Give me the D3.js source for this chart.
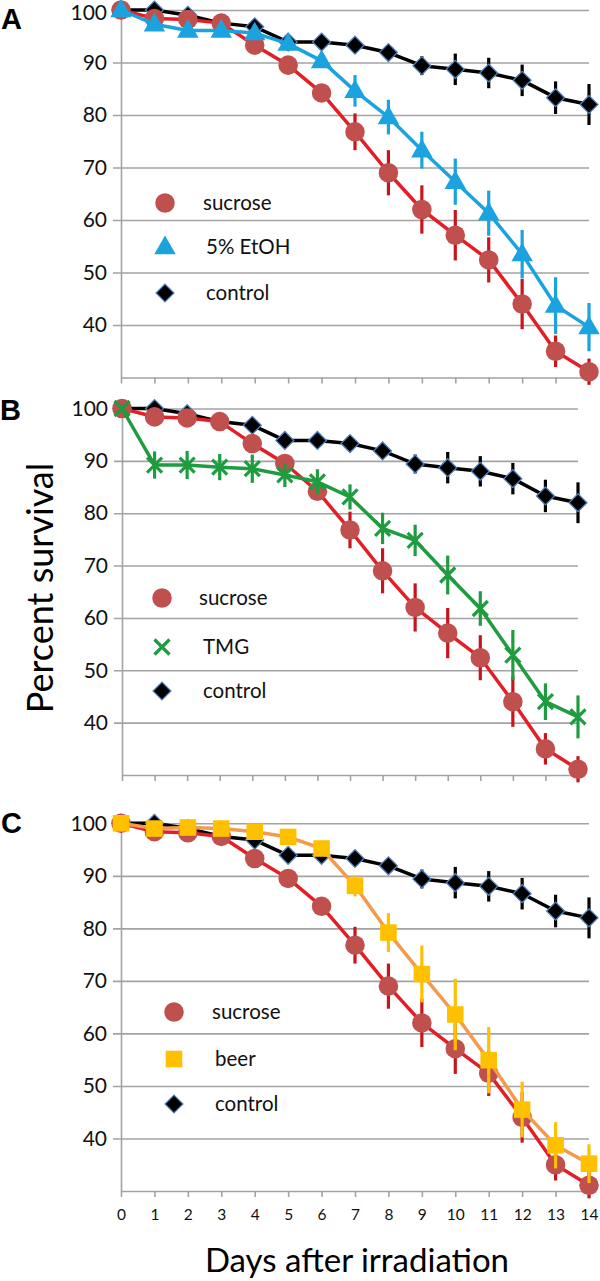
<!DOCTYPE html>
<html><head><meta charset="utf-8">
<script src="https://cdn.jsdelivr.net/npm/d3@7"></script>
<style>body{margin:0;background:#fff} svg{display:block}</style>
</head><body>
<svg id="chart" width="600" height="1281"></svg>
<script>
// ---------- data ----------
const days = [0,1,2,3,4,5,6,7,8,9,10,11,12,13,14];
const yTicks = [40,50,60,70,80,90,100];
const xTickLabels = ["0","1","2","3","4","5","6","7","8","9","10","11","12","13","14"];

const control    = [100,100,99.0,97.5,96.8,93.9,93.9,93.3,91.9,89.4,88.7,88.0,86.6,83.3,82.0];
const controlErr = [0,0,0,0,0.5,0.8,0.8,0.8,1.2,1.8,3.0,2.9,3.0,3.1,3.9];

const sucrose    = [100,98.4,98.2,97.5,93.3,89.5,84.2,76.8,69.0,62.0,57.1,52.4,44.0,35.0,31.1];
const sucroseErr = [0,0.3,0.3,0.5,0.8,1.2,1.2,3.5,4.3,4.6,4.8,4.3,4.8,3.0,2.5];

const etoh       = [100,97.3,96.1,96.1,95.6,93.6,90.3,84.6,79.6,73.3,67.3,61.3,53.5,43.7,39.6];
const etohErr    = [0,0.5,0.5,0.5,0.5,0.8,1.0,3.0,3.3,3.5,4.4,4.3,4.6,5.4,4.6];

const tmg        = [100,89.2,89.2,88.8,88.5,87.3,86.0,83.1,77.1,74.8,68.2,61.8,52.9,44.0,41.1];
const tmgErr     = [0,2.6,2.7,2.5,2.7,2.3,2.4,2.4,3.0,3.0,3.7,3.3,4.8,3.5,4.1];

const beer       = [100,99.0,99.2,99.0,98.4,97.4,95.2,88.1,79.2,71.3,63.6,54.9,45.5,38.7,35.2];
const beerErr    = [0,0.5,0.5,0.5,0.8,0.8,1.0,2.0,3.7,5.4,6.8,6.3,5.3,4.4,3.7];

const seriesNames = ["sucrose","5% EtOH","control","TMG","beer"];

// ---------- styles ----------
const FONT = "Lato, 'Open Sans', sans-serif";
const GRID = "#a3a3a3";
const styles = {
  control: {line:"#000000", err:"#000000", kind:"diamond", fill:"#000000", stroke:"#4f81bd"},
  sucrose: {line:"#e41e26", err:"#c8141c", kind:"circle", fill:"#c0504d", stroke:"none"},
  etoh:    {line:"#1aa3de", err:"#1aa3de", kind:"triangle", fill:"#1aa3de", stroke:"none"},
  tmg:     {line:"#1f9b40", err:"#1f9b40", kind:"x", fill:"none", stroke:"#1f9b40"},
  beer:    {line:"#f39a4c", err:"#ffc000", kind:"square", fill:"#ffc000", stroke:"none"}
};

const panels = [
  {letter:"A", lx:1, ly:29, x0:121, x1:589, yTop:10, yBot:377.5, showX:false, topNudge:3,
   legX:165, legTextX:[203,206,206], legY:[203,247,293],
   treat:{key:"etoh", name:seriesNames[1], data:etoh, err:etohErr}},
  {letter:"B", lx:0, ly:420, x0:122, x1:578, yTop:408.5, yBot:775, showX:false, topNudge:0,
   legX:162, legTextX:[199,203,203], legY:[598,647,691],
   treat:{key:"tmg", name:seriesNames[3], data:tmg, err:tmgErr}},
  {letter:"C", lx:1, ly:833, x0:121, x1:589, yTop:823.3, yBot:1191, showX:true, topNudge:0,
   legX:174, legTextX:[212,215,215], legY:[1012,1059,1104],
   treat:{key:"beer", name:seriesNames[4], data:beer, err:beerErr}}
];

const svg = d3.select("#chart");

function drawMarker(g, kind, x, y, st) {
  if (kind === "x") {
    const a = 7.5;
    g.append("path").attr("d", `M${x-a},${y-a}L${x+a},${y+a}M${x-a},${y+a}L${x+a},${y-a}`)
      .attr("stroke", st.stroke).attr("stroke-width", 3.2).attr("fill","none");
    return;
  }
  let sym, size;
  if (kind === "circle") { sym = d3.symbolCircle; size = 300; }
  else if (kind === "triangle") { sym = d3.symbolTriangle; size = 200; }
  else if (kind === "diamond") { sym = d3.symbolSquare; size = 160; }
  else { sym = d3.symbolSquare; size = 275; }
  const p = g.append("path").attr("d", d3.symbol(sym, size)())
    .attr("fill", st.fill);
  if (kind === "diamond") {
    p.attr("transform", `translate(${x},${y}) rotate(45)`)
     .attr("stroke", st.stroke).attr("stroke-width", 1.3);
  } else if (kind === "triangle") {
    p.attr("transform", `translate(${x},${y+1})`);
  } else {
    p.attr("transform", `translate(${x},${y})`);
  }
}

function drawSeries(g, x, y, data, err, st) {
  const line = d3.line().x((d,i)=>x(days[i])).y(d=>y(d));
  g.append("path").datum(data).attr("d", line)
    .attr("fill","none").attr("stroke", st.line).attr("stroke-width", 3.5)
    .attr("stroke-linejoin","round");
  const eg = g.append("g");
  data.forEach((v,i) => {
    if (err[i] > 0) {
      eg.append("line").attr("x1", x(days[i])).attr("x2", x(days[i]))
        .attr("y1", y(v - err[i])).attr("y2", y(v + err[i]))
        .attr("stroke", st.err).attr("stroke-width", 3.2);
    }
  });
  const mg = g.append("g");
  data.forEach((v,i) => drawMarker(mg, st.kind, x(days[i]), y(v), st));
}

panels.forEach(p => {
  const x = d3.scaleLinear().domain([0,14]).range([p.x0, p.x1]);
  const y = d3.scaleLinear().domain([30,100]).range([p.yBot, p.yTop]);
  const g = svg.append("g");

  // y axis with gridlines
  const ya = g.append("g").attr("transform", `translate(${p.x0},0)`)
    .call(d3.axisLeft(y).tickValues(yTicks).tickSizeInner(-(p.x1 - p.x0)).tickSizeOuter(0).tickPadding(14));
  ya.select(".domain").attr("stroke", GRID).attr("stroke-width", 1.6);
  ya.selectAll(".tick line").attr("stroke", GRID).attr("stroke-width", 1.6).attr("x1", -8);
  ya.selectAll(".tick text").attr("font-family", FONT).attr("font-size", 21).attr("fill", "#111")
    .attr("dy", d => d === 100 && p.topNudge ? `${0.32 + p.topNudge/21}em` : "0.32em");

  // x axis
  const xa = g.append("g").attr("transform", `translate(0,${p.yBot})`)
    .call(d3.axisBottom(x).tickValues(days).tickSizeInner(6).tickSizeOuter(0).tickPadding(12)
      .tickFormat((d,i) => p.showX ? xTickLabels[i] : ""));
  xa.select(".domain").attr("stroke", GRID).attr("stroke-width", 1.6);
  xa.selectAll(".tick line").attr("stroke", GRID).attr("stroke-width", 1.6);
  xa.selectAll(".tick text").attr("font-family", FONT).attr("font-size", 15.5).attr("fill", "#111");

  // series
  drawSeries(g, x, y, control, controlErr, styles.control);
  drawSeries(g, x, y, sucrose, sucroseErr, styles.sucrose);
  drawSeries(g, x, y, p.treat.data, p.treat.err, styles[p.treat.key]);

  // legend
  const leg = [
    {name:seriesNames[0], st:styles.sucrose},
    {name:p.treat.name, st:styles[p.treat.key]},
    {name:seriesNames[2], st:styles.control}
  ];
  leg.forEach((l,i) => {
    drawMarker(g, l.st.kind, p.legX, p.legY[i], l.st);
    g.append("text").attr("x", p.legTextX[i]).attr("y", p.legY[i]).attr("dy","0.35em")
      .attr("font-family", FONT).attr("font-size", 20.5).attr("fill","#111").text(l.name);
  });

  // panel letter
  svg.append("text").attr("x", p.lx).attr("y", p.ly)
    .attr("font-family", "'Liberation Sans', Arial, sans-serif").attr("font-weight","bold")
    .attr("font-size", 29).attr("fill","#000").text(p.letter);
});

// axis titles
svg.append("text").attr("transform","translate(53,588) rotate(-90)")
  .attr("text-anchor","middle").attr("font-family", FONT).attr("font-size", 36)
  .attr("fill","#000").text("Percent survival");
svg.append("text").attr("x", 357).attr("y", 1272)
  .attr("text-anchor","middle").attr("font-family", FONT).attr("font-size", 33)
  .attr("fill","#000").text("Days after irradiation");
</script>
</body></html>
